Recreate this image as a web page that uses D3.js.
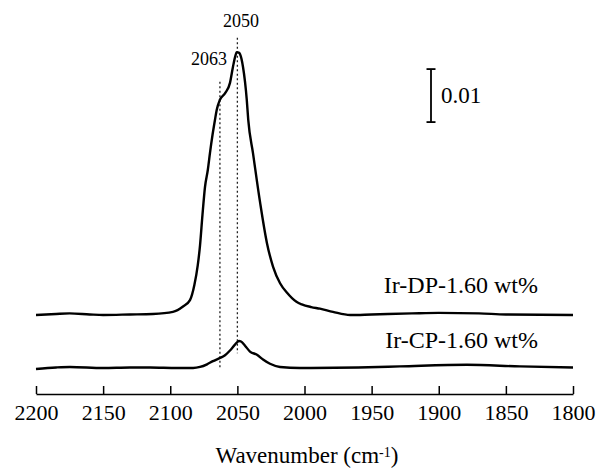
<!DOCTYPE html>
<html>
<head>
<meta charset="utf-8">
<script src="https://cdn.jsdelivr.net/npm/d3@7"></script>
<style>
  body { margin: 0; background: #fff; }
  svg { display: block; }
  text { font-family: "Liberation Serif", "Times New Roman", serif; fill: #000; }
</style>
</head>
<body>
<svg id="chart"></svg>
<script>
// wavenumber (cm-1) and absorbance
const dpWave = [2200, 2185, 2175, 2160, 2150, 2130, 2113, 2098, 2090.5, 2085.3, 2082, 2079.5, 2077.8, 2076,
  2074.1, 2072, 2070.4, 2068.5, 2066.7, 2065.4, 2063, 2059, 2055.5, 2053.3, 2051.5, 2050.5, 2049, 2048,
  2045.8, 2043, 2041.9, 2038.4, 2033, 2028, 2023.4, 2018.2, 2013, 2006, 2002, 1995, 1988.5, 1978.8, 1966,
  1950, 1920, 1900, 1870, 1850, 1800];
const dpAbs = [0, 0.0002, 0.0003, 0.0001, 0, 0.0001, 0.0002, 0.0006, 0.0016, 0.0028, 0.0057, 0.0094, 0.0132, 0.0189,
  0.0242, 0.0274, 0.0306, 0.0340, 0.0368, 0.0387, 0.0406, 0.0419, 0.0438, 0.0468, 0.0489, 0.0496, 0.0495, 0.0492,
  0.0468, 0.0406, 0.0368, 0.0306, 0.0211, 0.0136, 0.0091, 0.0060, 0.0042, 0.0025, 0.0020, 0.0015, 0.0012, 0.0006, 0,
  0.0001, 0.0003, 0.0004, 0.0003, 0.0001, 0];

const cpWave = [2200, 2185, 2174.7, 2150, 2130, 2115, 2095, 2083, 2077.8, 2072.6, 2068.2, 2062.9, 2059.2, 2055.5,
  2051.8, 2048.8, 2047.3, 2044.3, 2040.6, 2035.4, 2030.9, 2025.7, 2018.2, 2003.3, 1960, 1928.9, 1879, 1839.5, 1800];
const cpAbs = [-0.0002, 0.0001, 0.0002, 0, 0.0001, 0.0001, 0, 0, 0.0002, 0.0007, 0.0013, 0.0019, 0.0024, 0.0033,
  0.0044, 0.0051, 0.0050, 0.0042, 0.0031, 0.0025, 0.0016, 0.0008, 0.0002, 0, 0.0001, 0.0003, 0.0006, 0.0003, 0.0001];

const seriesNames = ['Ir-DP-1.60 wt%', 'Ir-CP-1.60 wt%'];
const seriesOffsets = [0.01, 0];
const xTicks = [2200, 2150, 2100, 2050, 2000, 1950, 1900, 1850, 1800];
const peakMarks = [2050, 2063];
const scaleBar = 0.01;

const W = 598, H = 468;
const serif = '"Liberation Serif", "Times New Roman", serif';
const svg = d3.select('#chart').attr('width', W).attr('height', H);

const x = d3.scaleLinear().domain([2200, 1800]).range([36, 573]);
const y = d3.scaleLinear().domain([0, 0.06]).range([368, 50]);

const line = d3.line()
  .x(d => x(d[0]))
  .y(d => y(d[1]))
  .curve(d3.curveMonotoneX);

// dotted peak markers
const markTop = [0.0623, 0.0540];
const markBottom = [0.0028, 0];
svg.selectAll('line.mark')
  .data(peakMarks)
  .join('line')
    .attr('class', 'mark')
    .attr('x1', d => x(d)).attr('x2', d => x(d))
    .attr('y1', (d, i) => y(markTop[i]))
    .attr('y2', (d, i) => y(markBottom[i]))
    .attr('stroke', '#222')
    .attr('stroke-width', 1.3)
    .attr('stroke-dasharray', '2,2.5');

svg.append('text').attr('x', 241).attr('y', 27).attr('text-anchor', 'middle')
  .attr('font-size', 18).text(peakMarks[0]);
svg.append('text').attr('x', 227).attr('y', 65).attr('text-anchor', 'end')
  .attr('font-size', 18).text(peakMarks[1]);

// spectra
const series = [
  dpWave.map((w, i) => [w, dpAbs[i] + seriesOffsets[0]]),
  cpWave.map((w, i) => [w, cpAbs[i] + seriesOffsets[1]])
];
svg.selectAll('path.spec')
  .data(series)
  .join('path')
    .attr('class', 'spec')
    .attr('d', line)
    .attr('fill', 'none')
    .attr('stroke', '#000')
    .attr('stroke-width', 2.4)
    .attr('stroke-linejoin', 'round');

// labels
const labelY = [293, 348];
svg.selectAll('text.lbl')
  .data(seriesNames)
  .join('text')
    .attr('class', 'lbl')
    .attr('x', 538)
    .attr('y', (d, i) => labelY[i])
    .attr('text-anchor', 'end')
    .attr('font-size', 24)
    .text(d => d);

// scale bar
const sbX = 431, sbBottom = 0.0464;
const sb = svg.append('g').attr('stroke', '#000').attr('stroke-width', 1.8);
sb.append('line').attr('x1', sbX).attr('x2', sbX)
  .attr('y1', y(sbBottom)).attr('y2', y(sbBottom + scaleBar));
sb.append('line').attr('x1', sbX - 4.5).attr('x2', sbX + 4.5)
  .attr('y1', y(sbBottom + scaleBar)).attr('y2', y(sbBottom + scaleBar));
sb.append('line').attr('x1', sbX - 4.5).attr('x2', sbX + 4.5)
  .attr('y1', y(sbBottom)).attr('y2', y(sbBottom));
svg.append('text').attr('x', 441).attr('y', 103).attr('font-size', 23).text(scaleBar);

// x axis
const axis = svg.append('g')
  .attr('transform', 'translate(0,394)')
  .call(d3.axisBottom(x).tickValues(xTicks).tickFormat(d3.format('d'))
    .tickSizeInner(-8).tickSizeOuter(0).tickPadding(10.5));
axis.attr('font-family', serif).attr('font-size', 22);
axis.select('.domain').attr('stroke-width', 1.5);
axis.selectAll('.tick line').attr('stroke-width', 1.5);
axis.selectAll('.tick text').attr('fill', '#000');

const title = svg.append('text').attr('x', 307).attr('y', 463)
  .attr('text-anchor', 'middle').attr('font-size', 23);
title.append('tspan').text('Wavenumber (cm');
title.append('tspan').attr('baseline-shift', '45%').attr('font-size', 14).text('-1');
title.append('tspan').text(')');
</script>
</body>
</html>
